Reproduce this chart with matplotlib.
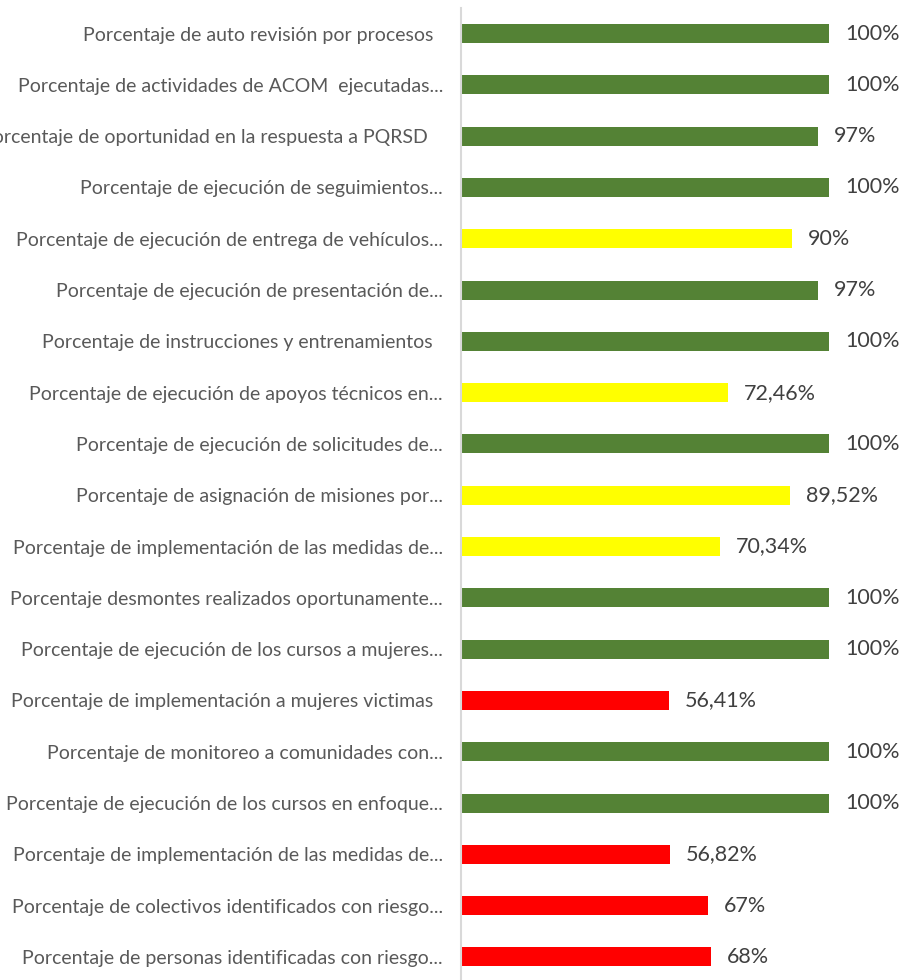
import matplotlib.pyplot as plt
from matplotlib.transforms import offset_copy

categories = [
    "Porcentaje de auto revisión por procesos  ",
    "Porcentaje de actividades de ACOM  ejecutadas...",
    "Porcentaje de oportunidad en la respuesta a PQRSD   ",
    "Porcentaje de ejecución de seguimientos...",
    "Porcentaje de ejecución de entrega de vehículos...",
    "Porcentaje de ejecución de presentación de...",
    "Porcentaje de instrucciones y entrenamientos  ",
    "Porcentaje de ejecución de apoyos técnicos en...",
    "Porcentaje de ejecución de solicitudes de...",
    "Porcentaje de asignación de misiones por...",
    "Porcentaje de implementación de las medidas de...",
    "Porcentaje desmontes realizados oportunamente...",
    "Porcentaje de ejecución de los cursos a mujeres...",
    "Porcentaje de implementación a mujeres victimas  ",
    "Porcentaje de monitoreo a comunidades con...",
    "Porcentaje de ejecución de los cursos en enfoque...",
    "Porcentaje de implementación de las medidas de...",
    "Porcentaje de colectivos identificados con riesgo...",
    "Porcentaje de personas identificadas con riesgo...",
]
values = [100, 100, 97, 100, 90, 97, 100, 72.46, 100, 89.52, 70.34,
          100, 100, 56.41, 100, 100, 56.82, 67, 68]
value_labels = ["100%", "100%", "97%", "100%", "90%", "97%", "100%", "72,46%",
                "100%", "89,52%", "70,34%", "100%", "100%", "56,41%", "100%",
                "100%", "56,82%", "67%", "68%"]

GREEN = "#548235"
YELLOW = "#FFFF00"
RED = "#FF0000"
colors = [GREEN, GREEN, GREEN, GREEN, YELLOW, GREEN, GREEN, YELLOW, GREEN,
          YELLOW, YELLOW, GREEN, GREEN, RED, GREEN, GREEN, RED, RED, RED]

plt.rcParams['font.family'] = ['Lato', 'DejaVu Sans']

W, H = 905, 980
fig = plt.figure(figsize=(W / 100, H / 100), dpi=100)
top_px, bottom_px = 7.85, 982.6
ax = fig.add_axes([461 / W, (H - bottom_px) / H, (829 - 461) / W,
                   (bottom_px - top_px) / H])

n = len(categories)
ypos = list(range(n))
ax.barh(ypos, values, height=0.37, color=colors)
ax.set_xlim(0, 100)
ax.set_ylim(n - 0.5, -0.5)

ax.set_yticks(ypos)
ax.set_yticklabels(categories, fontsize=14, color="#595959")
ax.tick_params(axis="y", length=0, pad=13)
ax.set_xticks([])

for s in ["top", "right", "bottom"]:
    ax.spines[s].set_visible(False)
ax.spines["left"].set_color("#d9d9d9")
ax.spines["left"].set_linewidth(1.5)

trans = offset_copy(ax.transData, fig=fig, x=16, y=0, units="dots")
for y, v, lab in zip(ypos, values, value_labels):
    ax.text(v, y, lab, transform=trans, ha="left", va="center",
            fontsize=15.5, color="#404040", clip_on=False)

fig.savefig("out.png", dpi=100)
